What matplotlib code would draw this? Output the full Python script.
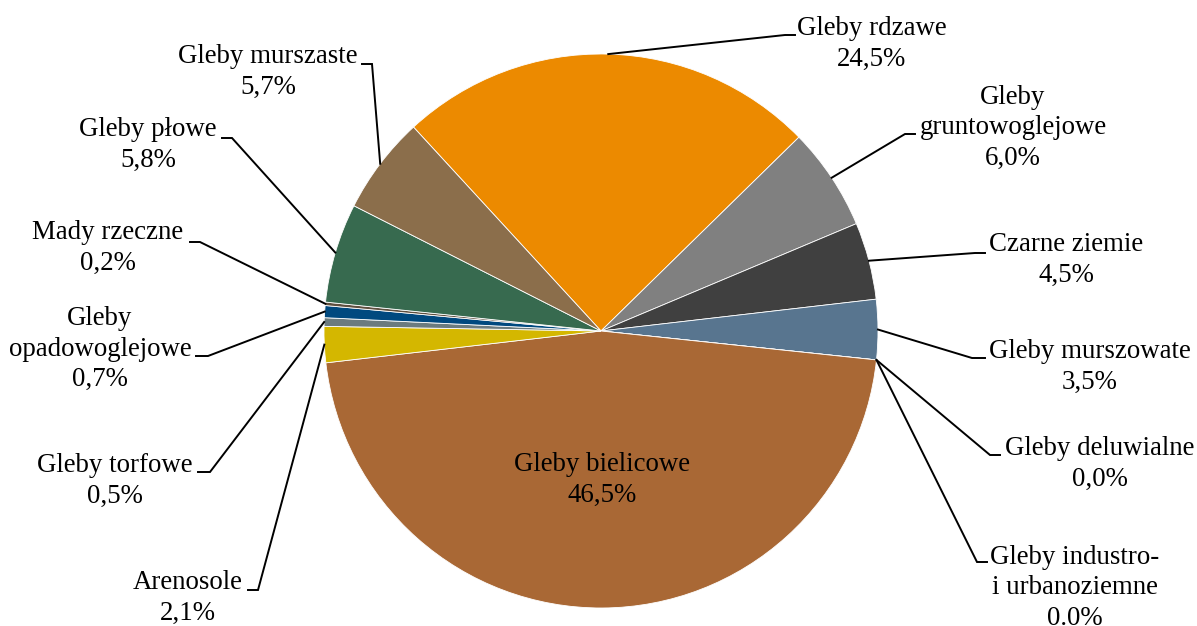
import numpy as np
import matplotlib
matplotlib.use('Agg')
import matplotlib.pyplot as plt

# data
names = ['Gleby rdzawe', 'Gleby\ngruntowoglejowe', 'Czarne ziemie', 'Gleby murszowate',
         'Gleby deluwialne', 'Gleby industro-\ni urbanoziemne', 'Gleby bielicowe',
         'Arenosole', 'Gleby torfowe', 'Gleby\nopadowoglejowe', 'Mady rzeczne',
         'Gleby płowe', 'Gleby murszaste']
values = [24.5, 6.0, 4.5, 3.5, 0.0, 0.0, 46.5, 2.1, 0.5, 0.7, 0.2, 5.8, 5.7]
pcts = ['24,5%', '6,0%', '4,5%', '3,5%', '0,0%', '0.0%', '46,5%',
        '2,1%', '0,5%', '0,7%', '0,2%', '5,8%', '5,7%']
colors = ['#EC8A00', '#808080', '#404040', '#58758F', '#4472C4', '#ED7D31', '#A96835',
          '#D4B700', '#6B7B7F', '#00497F', '#5F4F3F', '#376A4F', '#8B6E4B']

# label layout in pixels (text centre, leader elbow, stub direction)
lab_pos = [(872, 44), (1013, 128), (1066, 260), (1090, 367), (1100, 464), (1075, 588),
           (602, 480), (188, 598), (115, 481), (100, 349), (108, 248), (148, 145), (268, 72)]
elbows = [(785, 35), (905, 134), (975, 253), (972, 358), (990, 455), (977, 562),
          None, (258, 590), (210, 472), (208, 356), (200, 242), (232, 138), (372, 64)]
stub = [10, 10, 10, 13, 10, 10, 0, -10, -12, -12, -10, -10, -10]

W, H = 1197, 626
fig = plt.figure(figsize=(W / 100, H / 100), dpi=100)
ax = fig.add_axes([0, 0, 1, 1])

cx, cy, r = 601, H - 331, 277
wedges, _ = ax.pie(values, colors=colors, startangle=132.6, counterclock=False,
                   center=(cx, cy), radius=r, frame=True,
                   wedgeprops=dict(edgecolor='white', linewidth=0.6))
ax.set_xlim(0, W)
ax.set_ylim(0, H)
ax.set_aspect('equal')
ax.axis('off')

font = dict(family='Liberation Serif', fontsize=19.4, color='black')
for i, w in enumerate(wedges):
    lx, ly = lab_pos[i]
    ax.text(lx, H - ly, names[i] + '\n' + pcts[i], ha='center', va='center',
            linespacing=1.3, **font)
    if elbows[i] is None:
        continue
    th = np.deg2rad((w.theta1 + w.theta2) / 2)
    px, py = cx + r * np.cos(th), cy + r * np.sin(th)
    ex, ey = elbows[i]
    ax.plot([px, ex, ex + stub[i]], [py, H - ey, H - ey], color='black', lw=1.4,
            solid_joinstyle='miter')

fig.savefig('out.png', dpi=100)
